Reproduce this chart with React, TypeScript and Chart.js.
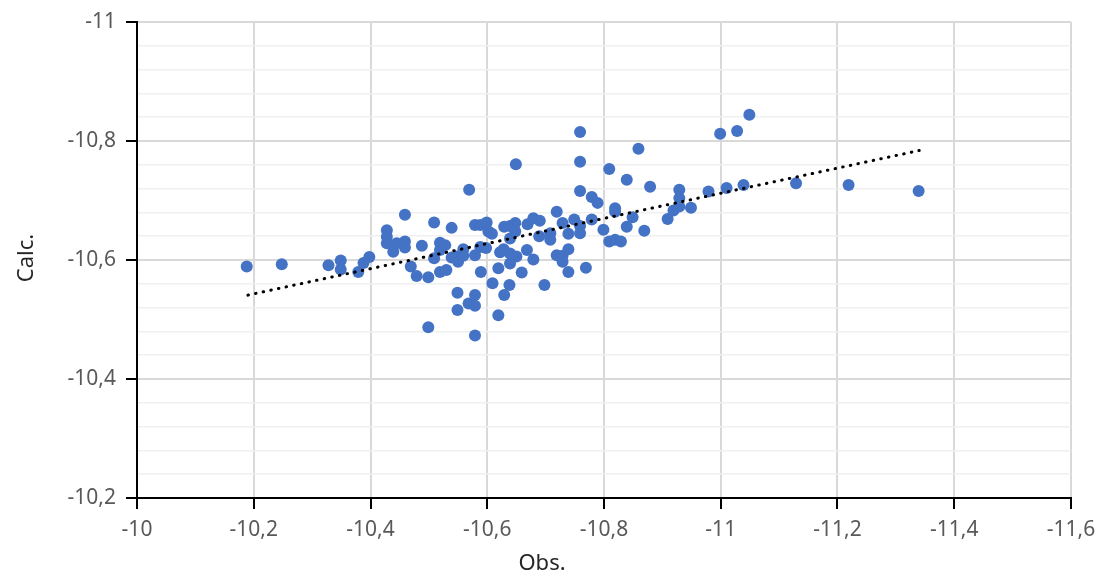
import React, { useEffect, useRef } from "react";
import { Chart, registerables } from "chart.js";

Chart.register(...registerables);

const obsValues = [
  -10.188, -10.248, -10.328, -10.349, -10.349, -10.379, -10.388, -10.398, -10.428, -10.428,
  -10.428, -10.439, -10.445, -10.459, -10.459, -10.459, -10.469, -10.479, -10.488, -10.499,
  -10.499, -10.509, -10.509, -10.519, -10.528, -10.519, -10.519, -10.530, -10.539, -10.539,
  -10.548, -10.550, -10.559, -10.559, -10.549, -10.549, -10.568, -10.579, -10.579, -10.579,
  -10.569, -10.579, -10.588, -10.599, -10.602, -10.608, -10.579, -10.588, -10.598, -10.589,
  -10.609, -10.619, -10.619, -10.629, -10.638, -10.629, -10.639, -10.648, -10.639, -10.648,
  -10.622, -10.628, -10.639, -10.650, -10.639, -10.659, -10.668, -10.679, -10.669, -10.679,
  -10.690, -10.689, -10.698, -10.708, -10.708, -10.719, -10.649, -10.729, -10.749, -10.739,
  -10.719, -10.729, -10.739, -10.729, -10.739, -10.759, -10.759, -10.769, -10.779, -10.759,
  -10.759, -10.759, -10.779, -10.789, -10.799, -10.809, -10.809, -10.819, -10.829, -10.819,
  -10.819, -10.839, -10.839, -10.849, -10.859, -10.869, -10.879, -10.909, -10.919, -10.929,
  -10.929, -10.929, -10.949, -10.979, -10.999, -11.010, -11.028, -11.039, -11.049, -11.129,
  -11.219, -11.339,
];

const calcValues = [
  -10.589, -10.593, -10.591, -10.599, -10.584, -10.580, -10.595, -10.605, -10.650, -10.639,
  -10.628, -10.614, -10.628, -10.631, -10.621, -10.676, -10.589, -10.573, -10.624, -10.571,
  -10.487, -10.663, -10.603, -10.629, -10.625, -10.617, -10.580, -10.583, -10.654, -10.604,
  -10.606, -10.597, -10.618, -10.607, -10.545, -10.516, -10.527, -10.541, -10.523, -10.473,
  -10.718, -10.659, -10.659, -10.663, -10.648, -10.644, -10.608, -10.622, -10.620, -10.580,
  -10.561, -10.586, -10.507, -10.541, -10.558, -10.656, -10.657, -10.662, -10.636, -10.648,
  -10.613, -10.618, -10.611, -10.606, -10.594, -10.579, -10.617, -10.601, -10.660, -10.670,
  -10.666, -10.640, -10.558, -10.645, -10.634, -10.681, -10.761, -10.662, -10.668, -10.644,
  -10.608, -10.607, -10.618, -10.597, -10.580, -10.657, -10.645, -10.587, -10.668, -10.815,
  -10.765, -10.716, -10.706, -10.696, -10.651, -10.753, -10.631, -10.634, -10.631, -10.687,
  -10.681, -10.656, -10.735, -10.672, -10.787, -10.649, -10.723, -10.669, -10.683, -10.718,
  -10.704, -10.690, -10.688, -10.715, -10.812, -10.721, -10.817, -10.726, -10.844, -10.729,
  -10.726, -10.716,
];

const trendX = [-10.19, -11.34];
const trendY = [-10.541, -10.784];

const xMin = -11.6;
const xMax = -10;
const xStep = 0.2;
const yMin = -11;
const yMax = -10.2;
const yStep = 0.04;
const yMajorEvery = 0.2;

const xTitle = "Obs.";
const yTitle = "Calc.";

const fmt = (v: number) => {
  const r = Math.round(v * 10) / 10;
  return String(r).replace(".", ",");
};
const isYMajor = (v: number) => {
  const k = v / yMajorEvery;
  return Math.abs(k - Math.round(k)) < 1e-6;
};

const titlePlugin = {
  id: "axisTitles",
  afterDraw(chart: any) {
    const ctx = chart.ctx;
    ctx.save();
    ctx.fillStyle = "#262626";
    ctx.font = '22px "Noto Sans"';
    ctx.textAlign = "center";
    ctx.textBaseline = "middle";
    ctx.fillText(xTitle, 542, 564);
    ctx.translate(27, 258);
    ctx.rotate(-Math.PI / 2);
    ctx.fillText(yTitle, 0, 0);
    ctx.restore();
  },
};

export default function App() {
  const ref = useRef<HTMLCanvasElement | null>(null);
  useEffect(() => {
    if (!ref.current) return;
    const points = obsValues.map((x, i) => ({ x, y: calcValues[i] }));
    const trend = trendX.map((x, i) => ({ x, y: trendY[i] }));
    const chart = new Chart(ref.current, {
      type: "scatter",
      data: {
        datasets: [
          {
            type: "line",
            data: trend,
            borderColor: "#000000",
            borderWidth: 3,
            borderDash: [0.5, 7.3],
            borderCapStyle: "round",
            pointRadius: 0,
            fill: false,
            order: 0,
          } as any,
          {
            data: points,
            backgroundColor: "#4472C4",
            borderWidth: 0,
            pointRadius: 6,
            pointHoverRadius: 6,
            order: 1,
          },
        ],
      },
      options: {
        responsive: false,
        animation: false,
        layout: { padding: { left: 0, right: 28, top: 22, bottom: 0 } },
        plugins: {
          legend: { display: false },
          tooltip: { enabled: false },
        },
        scales: {
          x: {
            type: "linear",
            min: xMin,
            max: xMax,
            reverse: true,
            afterFit: (s: any) => {
              s.height = 79;
              s.paddingLeft = 0;
              s.paddingRight = 0;
            },
            border: { color: "#000000", width: 2 },
            grid: {
              color: "#d9d9d9",
              lineWidth: 2,
              tickColor: "#000000",
              tickLength: 11,
              tickWidth: 2,
            },
            ticks: {
              stepSize: xStep,
              autoSkip: false,
              maxRotation: 0,
              padding: 8,
              color: "#595959",
              font: { family: "Noto Sans", size: 21 },
              callback: (v: any) => fmt(Number(v)),
            },
          },
          y: {
            type: "linear",
            min: yMin,
            max: yMax,
            reverse: true,
            afterFit: (s: any) => {
              s.width = 137;
              s.paddingTop = 0;
              s.paddingBottom = 0;
            },
            border: { color: "#000000", width: 2 },
            grid: {
              color: (c: any) => (c.tick && isYMajor(c.tick.value) ? "#d9d9d9" : "#f0f0f0"),
              lineWidth: (c: any) => (c.tick && isYMajor(c.tick.value) ? 2 : 1.5),
              tickColor: (c: any) => (c.tick && isYMajor(c.tick.value) ? "#000000" : "rgba(0,0,0,0)"),
              tickLength: 11,
              tickWidth: 2,
            },
            ticks: {
              stepSize: yStep,
              autoSkip: false,
              padding: 10,
              color: "#595959",
              font: { family: "Noto Sans", size: 21 },
              callback: (v: any) => (isYMajor(Number(v)) ? fmt(Number(v)) : ""),
            },
          },
        },
      },
      plugins: [titlePlugin],
    });
    return () => chart.destroy();
  }, []);
  return (
    <div style={{ position: "absolute", left: 0, top: 0, width: 1099, height: 577, background: "#fff" }}>
      <canvas ref={ref} width={1099} height={577} style={{ display: "block" }} />
    </div>
  );
}
